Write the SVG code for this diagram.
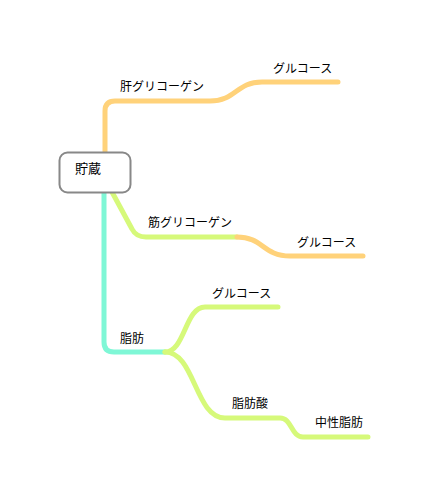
<svg xmlns="http://www.w3.org/2000/svg" width="428" height="495" viewBox="0 0 428 495">
<style>
.e{fill:none;stroke-width:5;stroke-linecap:round;stroke-linejoin:round}
.o{stroke:#ffd27a}
.g{stroke:#d6f97a}
.t{stroke:#7ff7d6}
text{font-family:"Noto Sans CJK JP","Noto Sans",sans-serif;font-size:12px;fill:#000}
.root{fill:#fff;stroke:#888;stroke-width:2}
</style>
<rect width="428" height="495" fill="#fff"/>
<g id="connectors">
<path class="e o" d="M105,154 L105,111 Q105,101 115,101 L210,101 C236,101 236,82 262,82 L338,82"/>
<path class="e g" d="M112,192 L132,229 Q136,237 146,237 L237,237"/>
<path class="e o" d="M237,237 C263,237 263,256 290,256 L363,256"/>
<path class="e t" d="M104,192 L104,342 Q104,352 114,352 L165,352"/>
<path class="e g" d="M165,352 C185,352 185,307 205,307 L278,307"/>
<path class="e g" d="M165,352 C195,352 195,418 225,418 L280,418 C292,418 291,437 303,437 L368,437"/>
</g>
<g id="root">
<rect class="root" x="59.5" y="152.5" width="71" height="40" rx="8"/>
<text x="75" y="173" style="font-size:13px">貯蔵</text>
</g>
<g id="n1"><text x="120" y="91">肝グリコーゲン</text></g>
<g id="n2"><text x="273" y="73">グルコース</text></g>
<g id="n3"><text x="148" y="227">筋グリコーゲン</text></g>
<g id="n4"><text x="297" y="247">グルコース</text></g>
<g id="n5"><text x="120" y="343">脂肪</text></g>
<g id="n6"><text x="212" y="298">グルコース</text></g>
<g id="n7"><text x="232" y="408">脂肪酸</text></g>
<g id="n8"><text x="315" y="427">中性脂肪</text></g>
</svg>
